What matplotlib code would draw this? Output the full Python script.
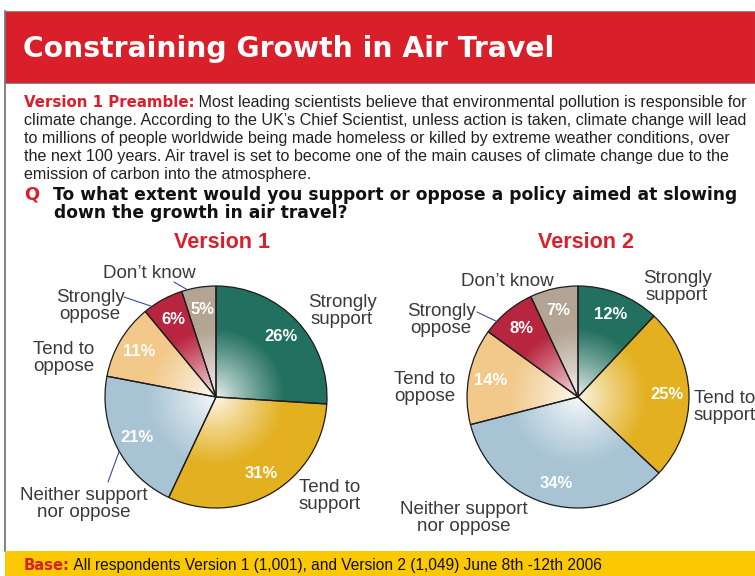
import matplotlib
matplotlib.use("Agg")
import matplotlib.pyplot as plt
from matplotlib.patches import Rectangle
import numpy as np

plt.rcParams["font.family"] = ["Liberation Sans", "DejaVu Sans"]

W, H = 755, 576

CATEGORIES = ["Strongly\nsupport", "Tend to\nsupport", "Neither support\nnor oppose",
              "Tend to\noppose", "Strongly\noppose", "Don’t know"]
VERSION_1 = [26, 31, 21, 11, 6, 5]
VERSION_2 = [12, 25, 34, 14, 8, 7]
SLICE_COLORS = ["#23705f", "#e3b021", "#a8c4d4", "#f2c98a", "#b8253f", "#b3a493"]

TITLE = "Constraining Growth in Air Travel"
PREAMBLE_HEAD = "Version 1 Preamble:"
PREAMBLE = [
    " Most leading scientists believe that environmental pollution is responsible for",
    "climate change. According to the UK’s Chief Scientist, unless action is taken, climate change will lead",
    "to millions of people worldwide being made homeless or killed by extreme weather conditions, over",
    "the next 100 years. Air travel is set to become one of the main causes of climate change due to the",
    "emission of carbon into the atmosphere.",
]
QUESTION = ["To what extent would you support or oppose a policy aimed at slowing",
            "down the growth in air travel?"]
BASE_HEAD = "Base:"
BASE_TEXT = " All respondents Version 1 (1,001), and Version 2 (1,049) June 8th -12th 2006"

RED = "#d9202a"
YELLOW = "#fcc800"
LABEL_GREY = "#3a3a3a"
LEADER = "#3d4b9c"
HEAVY = ["DejaVu Sans"]

RADIUS = 111
# pie centres and outer label anchors, in pixels from the top-left corner;
# leaders: slice index -> (label end of the line, position along the slice arc 0..1)
PIES = [
    {"title": "Version 1", "title_x": 222, "center": (216, 397), "values": VERSION_1,
     "labels": [(342, 311, "center"), (330, 496, "center"), (84, 504, "center"),
                (64, 358, "center"), (90, 306, "center"), (149, 273, "center")],
     "leaders": {4: ((124, 297), 0.8), 5: ((174, 282), 0.83), 2: ((108, 482), 0.53)}},
    {"title": "Version 2", "title_x": 586, "center": (578, 397), "values": VERSION_2,
     "labels": [(677, 287, "center"), (694, 407, "left"), (464, 518, "center"),
                (425, 388, "center"), (441, 320, "center"), (507, 281, "center")],
     "leaders": {4: ((477, 312), 0.76)}},
]


def py(y):
    return H - y


def shade_wedges(ax, wedges, center, color_list):
    cx, cy = center
    n = 300
    g = np.linspace(-1, 1, n)
    gx, gy = np.meshgrid(g, g)
    r = np.sqrt(gx ** 2 + gy ** 2)
    t = np.clip(r / 0.62, 0, 1) ** 0.85
    t = 0.08 + 0.92 * t
    for w, c in zip(wedges, color_list):
        rgb = np.array(matplotlib.colors.to_rgb(c))
        img = 1 - (1 - rgb)[None, None, :] * t[:, :, None]
        im = ax.imshow(img, extent=(cx - RADIUS, cx + RADIUS, cy - RADIUS, cy + RADIUS),
                       origin="lower", interpolation="bilinear", zorder=1)
        im.set_clip_path(w)
        w.set_facecolor("none")
        w.set_zorder(2)


def main() -> None:
    fig = plt.figure(figsize=(W / 100, H / 100), dpi=100)
    ax = fig.add_axes([0, 0, 1, 1])

    # header banner and frame
    ax.add_patch(Rectangle((5, py(83)), W - 5, 72, facecolor=RED, edgecolor="#8a8a8a",
                           linewidth=0.8, zorder=0))
    ax.plot([5, 5], [py(11), py(551)], color="#6e6e6e", linewidth=1.2, zorder=0)
    ax.add_patch(Rectangle((5, 0), W - 5, 25, facecolor=YELLOW, edgecolor="none", zorder=0))

    ax.text(23, py(57), TITLE, color="white", fontsize=20.3, fontweight="bold",
            family=HEAVY, ha="left", va="baseline")

    # preamble
    head = ax.text(24, py(107), PREAMBLE_HEAD, color=RED, fontsize=10.8, fontweight="bold",
                   family=HEAVY, ha="left", va="baseline")
    ax.annotate(PREAMBLE[0], xy=(1, 0), xycoords=head, color="#222222", fontsize=11.6,
                ha="left", va="bottom")
    for i, line in enumerate(PREAMBLE[1:], start=1):
        ax.text(24, py(107 + 18 * i), line, color="#222222", fontsize=11.6,
                ha="left", va="baseline")

    ax.text(24, py(200), "Q", color=RED, fontsize=12.8, fontweight="bold", family=HEAVY,
            va="baseline")
    ax.text(53, py(200), QUESTION[0], color="#111111", fontsize=12.3, fontweight="bold",
            family=HEAVY, va="baseline")
    ax.text(54, py(218), QUESTION[1], color="#111111", fontsize=12.3, fontweight="bold",
            family=HEAVY, va="baseline")

    for pie in PIES:
        cx, cy = pie["center"]
        vals = pie["values"]
        ax.text(pie["title_x"], py(248), pie["title"], color=RED, fontsize=15.5,
                fontweight="bold", ha="center", va="baseline")

        wedges, _, pct = ax.pie(
            vals, colors=SLICE_COLORS, startangle=90, counterclock=False,
            center=(cx, py(cy)), radius=RADIUS, pctdistance=0.8,
            autopct=lambda p: f"{round(p):d}%",
            wedgeprops=dict(edgecolor="#1c1c1c", linewidth=0.9),
            textprops=dict(color="white", fontsize=12, fontweight="bold"))
        for t in pct:
            t.set_zorder(4)
        shade_wedges(ax, wedges, (cx, py(cy)), SLICE_COLORS)

        for name, (lx, ly, ha) in zip(CATEGORIES, pie["labels"]):
            ax.text(lx, py(ly), name, color=LABEL_GREY, fontsize=13.5, ha=ha, va="center",
                    multialignment="center", linespacing=1.05, zorder=4)

        # leader lines from label to the wedge edge
        for i, ((tx, ty), frac) in pie["leaders"].items():
            w = wedges[i]
            lo, hi = sorted((w.theta1, w.theta2))
            ang = np.deg2rad(lo + frac * (hi - lo))
            edge = (cx + RADIUS * np.cos(ang), py(cy) + RADIUS * np.sin(ang))
            ax.annotate("", xy=edge, xytext=(tx, py(ty)),
                        arrowprops=dict(arrowstyle="-", color=LEADER, linewidth=0.8,
                                        shrinkA=0, shrinkB=0), zorder=3)

    # footer
    base = ax.text(24, py(570), BASE_HEAD, color=RED, fontsize=10.6, fontweight="bold",
                   family=HEAVY, ha="left", va="baseline")
    ax.annotate(BASE_TEXT, xy=(1, 0), xycoords=base, color="#111111", fontsize=11.2,
                ha="left", va="bottom")

    ax.set_aspect("auto")
    ax.set_xlim(0, W)
    ax.set_ylim(0, H)
    ax.axis("off")
    fig.savefig("out.png", dpi=100, facecolor="white")


if __name__ == "__main__":
    main()
